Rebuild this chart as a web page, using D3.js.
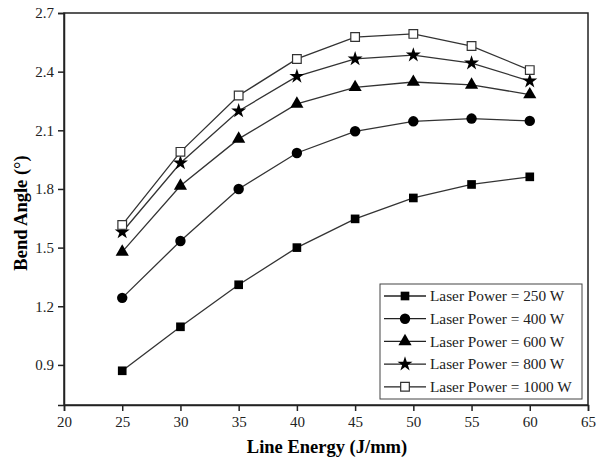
<!DOCTYPE html>
<html>
<head>
<meta charset="utf-8">
<script src="https://cdn.jsdelivr.net/npm/d3@7"></script>
<style>
  body { margin: 0; background: #fff; }
  text { font-family: "Liberation Serif", "DejaVu Serif", serif; }
</style>
</head>
<body>
<div class="graph"></div>
<script>
const lineEnergy = [25, 30, 35, 40, 45, 50, 55, 60];
const power250 = [0.87, 1.095, 1.31, 1.50, 1.647, 1.754, 1.823, 1.862];
const power400 = [1.243, 1.534, 1.80, 1.984, 2.095, 2.146, 2.16, 2.148];
const power600 = [1.478, 1.816, 2.056, 2.235, 2.32, 2.347, 2.332, 2.283];
const power800 = [1.58, 1.933, 2.199, 2.376, 2.465, 2.485, 2.444, 2.352];
const power1000 = [1.616, 1.99, 2.278, 2.465, 2.577, 2.593, 2.531, 2.408];
const seriesNames = ["Laser Power = 250 W", "Laser Power = 400 W", "Laser Power = 600 W",
                     "Laser Power = 800 W", "Laser Power = 1000 W"];
const xTicks = [20, 25, 30, 35, 40, 45, 50, 55, 60, 65];
const yTicks = [0.9, 1.2, 1.5, 1.8, 2.1, 2.4, 2.7];

const width = 600, height = 459;
const margin = {top: 13, right: 12, bottom: 54, left: 64};

const series = [
    {name: seriesNames[0], values: power250, symbol: d3.symbolSquare, size: 75, fill: "#000"},
    {name: seriesNames[1], values: power400, symbol: d3.symbolCircle, size: 85, fill: "#000"},
    {name: seriesNames[2], values: power600, symbol: d3.symbolTriangle, size: 75, fill: "#000"},
    {name: seriesNames[3], values: power800, symbol: d3.symbolStar, size: 70, fill: "#000"},
    {name: seriesNames[4], values: power1000, symbol: d3.symbolSquare, size: 75, fill: "#fff"},
];

const svg = d3.select(".graph").append("svg")
    .attr("width", width)
    .attr("height", height);

const x = d3.scaleLinear().domain([20, 65]).range([margin.left, width - margin.right]);
const y = d3.scaleLinear().domain([0.695, 2.7]).range([height - margin.bottom, margin.top]);

// frame
svg.append("rect")
    .attr("x", x(20)).attr("y", y(2.7))
    .attr("width", x(65) - x(20)).attr("height", y(0.695) - y(2.7))
    .attr("fill", "none").attr("stroke", "#222").attr("stroke-width", 1.5);

const xAxis = svg.append("g")
    .attr("transform", `translate(0,${y(0.695)})`)
    .call(d3.axisBottom(x).tickValues(xTicks).tickSize(6).tickPadding(5));
const yAxis = svg.append("g")
    .attr("transform", `translate(${x(20)},0)`)
    .call(d3.axisLeft(y).tickValues(yTicks).tickFormat(d3.format(".1f")).tickSize(6).tickPadding(4));

[xAxis, yAxis].forEach(ax => {
    ax.select(".domain").attr("stroke", "#222").attr("stroke-width", 1.5);
    ax.selectAll(".tick line").attr("stroke", "#222").attr("stroke-width", 1.5);
    ax.selectAll(".tick text").attr("fill", "#222").style("font-size", "15px")
        .style("font-family", "'Liberation Serif', serif");
});

svg.append("text")
    .attr("x", 327).attr("y", 453)
    .attr("text-anchor", "middle")
    .style("font-size", "18.5px").style("font-weight", "bold")
    .text("Line Energy (J/mm)");

svg.append("text")
    .attr("transform", "translate(27,213) rotate(-90)")
    .attr("text-anchor", "middle")
    .style("font-size", "18.5px").style("font-weight", "bold")
    .text("Bend Angle (°)");

const line = d3.line().x((d, i) => x(lineEnergy[i])).y(d => y(d));

series.forEach(s => {
    svg.append("path")
        .attr("d", line(s.values))
        .attr("fill", "none").attr("stroke", "#333").attr("stroke-width", 1.3);
    svg.selectAll(null)
        .data(s.values).enter()
        .append("path")
        .attr("transform", (d, i) => `translate(${x(lineEnergy[i])},${y(d)})`)
        .attr("d", d3.symbol().type(s.symbol).size(s.size))
        .attr("fill", s.fill)
        .attr("stroke", s.fill === "#fff" ? "#333" : "none")
        .attr("stroke-width", 1.2);
});

// legend
const legend = svg.append("g").attr("transform", "translate(380,284)");
legend.append("rect")
    .attr("width", 202).attr("height", 115)
    .attr("fill", "#fff").attr("stroke", "#444").attr("stroke-width", 1);
series.forEach((s, i) => {
    const row = legend.append("g").attr("transform", `translate(0,${12 + i * 22.7})`);
    row.append("line")
        .attr("x1", 4).attr("x2", 46)
        .attr("stroke", "#222").attr("stroke-width", 1.3);
    row.append("path")
        .attr("transform", "translate(25,0)")
        .attr("d", d3.symbol().type(s.symbol).size(s.size))
        .attr("fill", s.fill)
        .attr("stroke", s.fill === "#fff" ? "#333" : "none")
        .attr("stroke-width", 1.2);
    row.append("text")
        .attr("x", 50).attr("dy", "0.35em")
        .style("font-size", "15.3px").attr("fill", "#222")
        .text(s.name);
});
</script>
</body>
</html>
